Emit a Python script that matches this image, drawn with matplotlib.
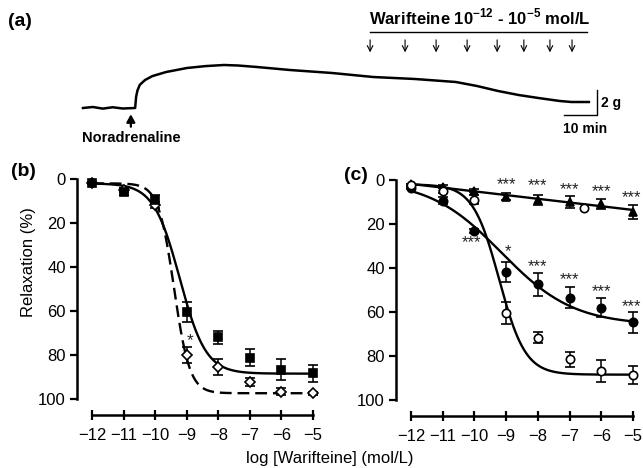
# warifteine relaxation figure: trace (a) and concentration-response curves (b, c)

import numpy as np
import matplotlib
matplotlib.use('Agg')
import matplotlib.pyplot as plt

plt.rcParams['font.family'] = ['Liberation Sans', 'DejaVu Sans']
plt.rcParams['mathtext.fontset'] = 'custom'
plt.rcParams['mathtext.rm'] = 'Liberation Sans'
plt.rcParams['mathtext.bf'] = 'Liberation Sans:bold'

NARROW = ['Liberation Sans Narrow', 'Liberation Sans', 'DejaVu Sans']

#-----------------------------------
# (a) isometric tension trace (time in min, tension in g above baseline)
trace_t = [0, 3, 6, 9, 12, 15.8, 16.1, 16.5, 17.2, 18.8, 21, 25.2, 31.5,
           37, 42.7, 47, 52.7, 62.7, 75.5, 87.9, 100.6, 113, 119.4, 125.8,
           132, 138, 144.5, 148, 153.3]
trace_g = [0, 0.08, -0.05, 0.06, -0.04, 0, 0.9, 1.4, 1.85, 2.24, 2.55, 2.88,
           3.2, 3.35, 3.44, 3.4, 3.28, 3.04, 2.8, 2.48, 2.32, 2.08, 1.76,
           1.36, 1.04, 0.8, 0.56, 0.48, 0.48]
add_t = [87, 97.6, 107, 116.4, 125.5, 133.6, 141.5, 148.2]
na_t = 14.5

# (b) and (c)
logc = [-12, -11, -10, -9, -8, -7, -6, -5]

b_sq = [2, 5.8, 9.5, 60.5, 72, 81.2, 86.7, 88.3]
b_sq_err = [0.5, 1.7, 2.3, 4.7, 2.9, 3.8, 4.8, 3.8]
b_di = [2, 5, 11.8, 80, 85.6, 92.4, 96.7, 97.4]
b_di_err = [0.5, 1, 1.5, 3.8, 3.6, 1.7, 1.5, 0.6]

c_open = [2.3, 4.8, 9, 60.6, 71.7, 81.5, 87, 88.6]
c_open_err = [0.5, 1, 2, 5, 2.5, 3.5, 5, 4]
c_fill = [3.8, 9.4, 23.2, 41.7, 47.4, 53.5, 58, 64.7]
c_fill_err = [0.5, 1.7, 0.8, 4.5, 5.2, 4.9, 4.4, 4.7]
c_tri = [2, 3, 4.8, 7.6, 9.1, 10.2, 11, 14.6]
c_tri_err = [0.3, 0.5, 0.8, 1.5, 2.3, 2.7, 2.3, 3]
stray_x, stray_y = [-6.55], [12.9]

# fitted curve parameters: bottom, top, logEC50, hill slope
fit_b_sq = (2, 88.5, -9.22, 1.05)
fit_b_di = (2, 97.4, -9.4, 1.75)
fit_c_open = (2, 88.5, -9.22, 1.05)
fit_c_fill = (0, 66, -9.15, 0.38)
fit_c_tri = (1.8, 1.69)   # value at -12, slope per log unit

# significance marks
b_star_x, b_star_y, b_star = [-8.88], [73.5], ['*']
c_tri_star_x = [-9, -8, -7, -6, -5.03]
c_tri_star_y = [2.3, 2.7, 4.2, 5.3, 8.2]
c_fill_star_x = [-10.1, -8.95, -8, -7, -6, -5.03]
c_fill_star_y = [28.5, 32.5, 39.4, 45.5, 50.8, 57.6]
c_fill_star = ['***', '*', '***', '***', '***', '***']


#-----------------------------------
def hill(x, p):
    bottom, top, ec50, h = p
    return bottom + (top - bottom) / (1.0 + 10.0 ** ((ec50 - x) * h))


def setup(ax):
    ax.set_xlim(-12.475, -4.84)
    ax.set_ylim(107.3, -1.8)
    for s in ['top', 'right']:
        ax.spines[s].set_visible(False)
    ax.spines['left'].set_bounds(0, 100)
    ax.spines['bottom'].set_bounds(-12, -5)
    ax.spines['left'].set_linewidth(1.8)
    ax.spines['bottom'].set_linewidth(1.8)
    ax.set_xticks(logc)
    ax.set_yticks([0, 20, 40, 60, 80, 100])
    ax.tick_params(axis='y', direction='out', length=5, width=1.6,
                   labelsize=12, pad=3)
    ax.tick_params(axis='x', direction='inout', length=7, width=1.6,
                   labelsize=12, pad=6)


def points(ax, y, err, marker, face, ms):
    ax.errorbar(logc, y, yerr=err, fmt=marker, color='black',
                markerfacecolor=face, markeredgecolor='black',
                markeredgewidth=1.2, ms=ms, elinewidth=1.1, capsize=3.5,
                capthick=1.1, zorder=4)


fig = plt.figure(figsize=(6.43, 4.68), dpi=100)

# ---- (a)
axa = fig.add_axes([0, 1 - 160 / 468, 1, 160 / 468])
axa.set_xlim(-25.15, 169.7)
axa.set_ylim(-4.16, 8.64)
axa.axis('off')
axa.plot(trace_t, trace_g, color='black', lw=1.8)
for t in add_t:
    axa.annotate('', xy=(t, 4.45), xytext=(t, 5.45),
                 arrowprops=dict(arrowstyle='->', lw=0.8, color='black',
                                 shrinkA=0, shrinkB=0))
axa.plot([add_t[0], 152.7], [6.08, 6.08], color='black', lw=1.0)
axa.text(120.3, 6.45, r'Warifteine 10$^{\mathbf{-12}}$ - 10$^{\mathbf{-5}}$ mol/L',
         ha='center', va='bottom', fontsize=12, fontweight='bold',
         family=NARROW)
axa.annotate('', xy=(na_t, -0.5), xytext=(na_t, -1.5),
             arrowprops=dict(arrowstyle='-|>,head_width=0.25,head_length=0.45',
                             lw=1.6, color='black', shrinkA=0, shrinkB=0))
axa.text(na_t, -1.8, 'Noradrenaline', ha='center', va='top', fontsize=10.5,
         fontweight='bold', family=NARROW)
axa.plot([145.8, 155.8, 155.8], [-0.56, -0.56, 1.44], color='black', lw=1.0)
axa.text(156.9, 0.44, '2 g', ha='left', va='center', fontsize=10,
         fontweight='bold', family=NARROW)
axa.text(152, -1.1, '10 min', ha='center', va='top', fontsize=10,
         fontweight='bold', family=NARROW)
fig.text(8 / 643, 1 - 22 / 468, '(a)', fontsize=14, fontweight='bold',
         va='center', ha='left')

xs = np.linspace(-12, -5, 300)

# ---- (b)
axb = fig.add_axes([77 / 643, 1 - 415 / 468, 241 / 643, 240 / 468])
setup(axb)
axb.plot(xs, hill(xs, fit_b_sq), color='black', lw=1.7, zorder=3)
axb.plot(xs, hill(xs, fit_b_di), color='black', lw=1.7, ls=(0, (5, 2.5)),
         zorder=3)
points(axb, b_di, b_di_err, 'D', 'white', 5)
points(axb, b_sq, b_sq_err, 's', 'black', 5.5)
for x, y, s in zip(b_star_x, b_star_y, b_star):
    axb.text(x, y, s, ha='center', va='center', fontsize=12.5, color='#222222')
fig.text(11 / 643, 1 - 172 / 468, '(b)', fontsize=14, fontweight='bold',
         va='center', ha='left')

# ---- (c)
axc = fig.add_axes([396 / 643, 1 - 416 / 468, 242 / 643, 240 / 468])
setup(axc)
axc.plot(xs, hill(xs, fit_c_open), color='black', lw=1.7, zorder=3)
axc.plot(xs, hill(xs, fit_c_fill), color='black', lw=1.7, zorder=3)
axc.plot(xs, fit_c_tri[0] + fit_c_tri[1] * (xs + 12), color='black', lw=1.7,
         zorder=3)
points(axc, c_tri, c_tri_err, '^', 'black', 6)
points(axc, c_fill, c_fill_err, 'o', 'black', 6)
points(axc, c_open, c_open_err, 'o', 'white', 6)
axc.plot(stray_x, stray_y, 'o', mfc='white', mec='black', mew=1.2, ms=6,
         zorder=4)
for x, y in zip(c_tri_star_x, c_tri_star_y):
    axc.text(x, y, '***', ha='center', va='center', fontsize=12,
             color='#222222')
for x, y, s in zip(c_fill_star_x, c_fill_star_y, c_fill_star):
    axc.text(x, y, s, ha='center', va='center', fontsize=12,
             color='#222222')
fig.text(344 / 643, 1 - 175 / 468, '(c)', fontsize=14, fontweight='bold',
         va='center', ha='left')

fig.text(28 / 643, 1 - 262 / 468, 'Relaxation (%)', rotation=90, fontsize=12,
         ha='center', va='center')
fig.text(330 / 643, 1 - 458 / 468, 'log [Warifteine] (mol/L)', fontsize=12,
         ha='center', va='center')

fig.savefig('out.png', dpi=100)
